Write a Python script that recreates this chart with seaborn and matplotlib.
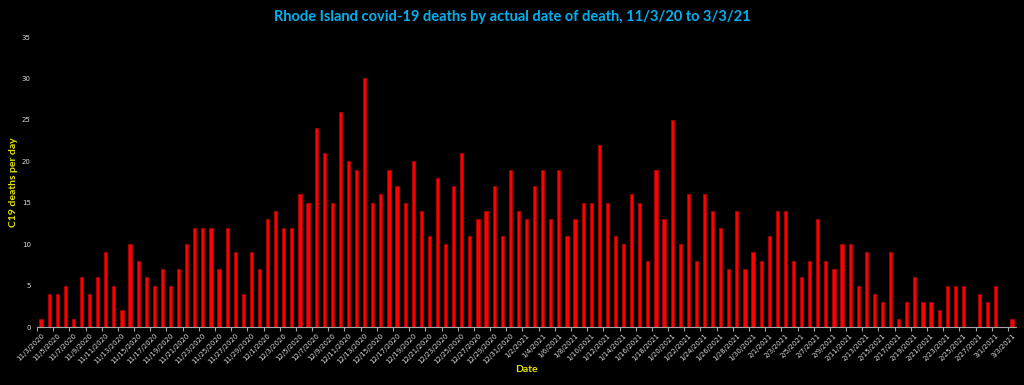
import numpy as np
import pandas as pd
import matplotlib
matplotlib.use("Agg")
import matplotlib.pyplot as plt
import seaborn as sns

# daily deaths, 11/3/2020 .. 3/3/2021
nov = [1, 4, 4, 5, 1, 6, 4, 6, 9, 5, 2, 10, 8, 6, 5, 7, 5, 7, 10, 12, 12, 12, 7, 12, 9, 4, 9, 7]
dec = [13, 14, 12, 12, 16, 15, 24, 21, 15, 26, 20, 19, 30, 15, 16, 19, 17, 15, 20, 14, 11, 18, 10, 17, 21, 11, 13, 14, 17, 11, 19]
jan = [14, 13, 17, 19, 13, 19, 11, 13, 15, 15, 22, 15, 11, 10, 16, 15, 8, 19, 13, 25, 10, 16, 8, 16, 14, 12, 7, 14, 7, 9, 8]
feb = [11, 14, 14, 8, 6, 8, 13, 8, 7, 10, 10, 5, 9, 4, 3, 9, 1, 3, 6, 3, 3, 2, 5, 5, 5, 0, 4, 3]
mar = [5, 0, 1]

deaths = nov + dec + jan + feb + mar
dates = pd.date_range("2020-11-03", "2021-03-03", freq="D")
date_labels = [f"{d.month}/{d.day}/{d.year}" for d in dates]

df = pd.DataFrame({"Date": date_labels, "Deaths": deaths})

fig = plt.figure(figsize=(10.24, 3.85), dpi=100, facecolor="black")
ax = fig.add_axes([37 / 1024, 58 / 385, 979 / 1024, 290 / 385])
ax.set_facecolor("black")

sns.barplot(data=df, x="Date", y="Deaths", color="#FF0000", width=0.4,
            edgecolor="#B00000", linewidth=0.6, saturation=1, ax=ax)

ax.set_ylim(0, 35)
ax.set_xlim(-0.5, len(deaths) - 0.5)
ax.set_yticks(range(0, 36, 5))
ax.tick_params(axis="y", length=0, labelsize=5, labelcolor="#D9D9D9", pad=4.5)

pos = list(range(0, len(deaths), 2))
ax.set_xticks(pos)
ax.set_xticklabels([date_labels[i] for i in pos], rotation=45, ha="right",
                   rotation_mode="anchor", fontsize=5, color="#D9D9D9")
ax.tick_params(axis="x", which="major", length=0, pad=4)
ax.set_xticks(np.arange(-0.5, len(deaths), 2), minor=True)
ax.tick_params(axis="x", which="minor", length=3, color="#A6A6A6", width=0.8)

for s in ["top", "right", "left"]:
    ax.spines[s].set_visible(False)
ax.spines["bottom"].set_color("#A6A6A6")
ax.spines["bottom"].set_linewidth(0.8)

ax.set_xlabel("Date", color="#E6E600", fontsize=7.5, fontweight="bold",
              family=["Lato", "DejaVu Sans"])
ax.xaxis.set_label_coords(0.5, -38 / 290)
ax.set_ylabel("C19 deaths per day", color="#E6E600", fontsize=7.5, fontweight="bold",
              family=["Lato", "DejaVu Sans"])
ax.yaxis.set_label_coords(-19 / 979, 0.5)

fig.text(0.5, 1 - 17 / 385, "Rhode Island covid-19 deaths by actual date of death, 11/3/20 to 3/3/21",
         ha="center", va="center", color="#00B0F0", fontsize=10.5, fontweight="bold",
         family=["Lato", "DejaVu Sans"])

fig.savefig("out.png", dpi=100, facecolor="black")
